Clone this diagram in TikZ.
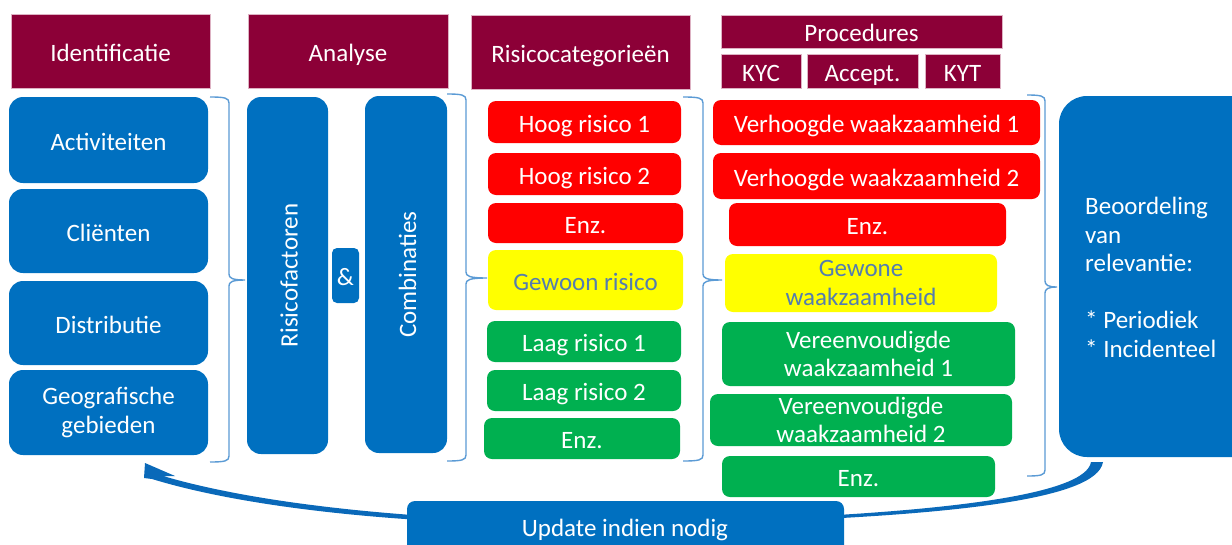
\documentclass[tikz,border=0pt]{standalone}
\usepackage{fontspec}
\setmainfont{Carlito}
\definecolor{maroon}{RGB}{140,0,55}
\definecolor{cblue}{RGB}{0,112,192}
\definecolor{arrblue}{RGB}{10,105,185}
\definecolor{cred}{RGB}{255,0,0}
\definecolor{cyellow}{RGB}{255,255,0}
\definecolor{cgreen}{RGB}{0,176,80}
\definecolor{bracec}{RGB}{91,155,213}
\definecolor{ytext}{RGB}{84,125,175}
\newcommand\oneline[1]{\rule{0pt}{20pt}\smash{#1}}
\newcommand\mybrace[6]{\draw[brace] (#1,#4) .. controls ({#2-4},#4) and (#2,{#4+1}) .. (#2,{#4+6}) -- (#2,{#5-6}) .. controls (#2,{#5-2}) and ({#2+3},#5) .. (#3,#5) .. controls ({#2+3},#5) and (#2,{#5+2}) .. (#2,{#5+6}) -- (#2,{#6-6}) .. controls (#2,{#6-1}) and ({#2-4},#6) .. (#1,#6);}
\newcommand\bx[7]{\node[#1, minimum width={#5pt-#3pt}, minimum height={#6pt-#4pt}] (#2) at ({(#3+#5)/2},{(#4+#6)/2}) {#7};}
\tikzset{
  every node/.style={font=\fontsize{25}{28.5}\selectfont, inner sep=0pt, align=center},
  hdr/.style={fill=maroon, draw=maroon!30, line width=0.6pt, text=white},
  bluebox/.style={fill=cblue, rounded corners=14pt, text=white},
  ampbox/.style={fill=cblue, rounded corners=5pt, text=white},
  redbox/.style={fill=cred, rounded corners=8pt, text=white},
  yelbox/.style={fill=cyellow, rounded corners=8pt, text=ytext},
  greenbox/.style={fill=cgreen, rounded corners=8pt, text=white},
  bigblue/.style={fill=cblue, rounded corners=28pt, text=white},
  updbox/.style={fill=cblue, rounded corners=8pt, text=white},
  brace/.style={draw=bracec, line width=1.4pt},
}
\begin{document}
\begin{tikzpicture}[x=1pt,y=-1pt]
\useasboundingbox (0,0) rectangle (1232,544);
\clip (0,0) rectangle (1232,544);
\fill[white] (0,0) rectangle (1232,544);

% curved return arrow (behind update box)
\fill[arrblue] (1103,462) .. controls (1097,500) and (950,519) .. (640,525)
  .. controls (420,528) and (250,509) .. (152,479)
  -- (144,478) -- (145,463) -- (175,476) -- (163,476)
  .. controls (258,504) and (420,523) .. (640,522.5)
  .. controls (950,516) and (1086,494) .. (1091,462) -- cycle;

% headers
\bx{hdr}{h1}{11}{14}{210}{88}{\oneline{Identificatie}}
\bx{hdr}{h2}{248}{14}{448}{88}{\oneline{Analyse}}
\bx{hdr}{h3}{471}{15}{690}{89}{\oneline{Risicocategorieën}}
\bx{hdr}{h4}{721}{15}{1002}{48}{\oneline{Procedures}}
\bx{hdr}{h5}{721}{54}{801}{88}{\oneline{KYC}}
\bx{hdr}{h6}{807}{54}{918}{88}{\oneline{Accept.}}
\bx{hdr}{h7}{925}{54}{1000}{88}{\oneline{KYT}}

% identification column
\bx{bluebox}{b1}{9}{97}{208}{183}{\oneline{Activiteiten}}
\bx{bluebox}{b2}{9}{189}{208}{273}{\oneline{Cliënten}}
\bx{bluebox}{b3}{9}{281}{208}{365}{\oneline{Distributie}}
\bx{bluebox}{b4}{9}{370}{208}{455}{Geografische\\gebieden}

% analysis
\node[bluebox, rotate=90, minimum width=357pt, minimum height=81pt] (rf) at (287.5,275.5) {\oneline{Risicofactoren}};
\bx{ampbox}{amp}{332}{248}{359}{303}{\oneline{\&}}
\node[bluebox, rotate=90, minimum width=357pt, minimum height=82pt] (comb) at (406,274.5) {\oneline{Combinaties}};

% risk categories
\bx{redbox}{r1}{488}{101}{681}{143}{\oneline{Hoog risico 1}}
\bx{redbox}{r2}{488}{153}{681}{195}{\oneline{Hoog risico 2}}
\bx{redbox}{r3}{488}{203}{683}{243}{\oneline{Enz.}}
\bx{yelbox}{r4}{488}{250}{683}{310}{\oneline{Gewoon risico}}
\bx{greenbox}{r5}{487}{321}{681}{362}{\oneline{Laag risico 1}}
\bx{greenbox}{r6}{487}{370}{681}{411}{\oneline{Laag risico 2}}
\bx{greenbox}{r7}{484}{418}{680}{459}{\oneline{Enz.}}

% procedures
\bx{redbox}{p1}{713}{100}{1040}{145}{\oneline{Verhoogde waakzaamheid 1}}
\bx{redbox}{p2}{713}{153}{1040}{199}{\oneline{Verhoogde waakzaamheid 2}}
\bx{redbox}{p3}{729}{203}{1006}{246}{\oneline{Enz.}}
\bx{yelbox}{p4}{725}{254}{997}{312}{Gewone\\waakzaamheid}
\bx{greenbox}{p5}{722}{322}{1015}{386}{Vereenvoudigde\\waakzaamheid 1}
\bx{greenbox}{p6}{710}{394}{1012}{446}{Vereenvoudigde\\waakzaamheid 2}
\bx{greenbox}{p7}{722}{456}{995}{497}{\oneline{Enz.}}

% assessment
\bx{bigblue}{beo}{1059}{96}{1262}{457}{}
\node[text=white, align=left, anchor=west] (beotext) at (1085,277.5)
  {Beoordeling\\van\\relevantie:\\[28.5pt]* Periodiek\\* Incidenteel};

% update
\bx{updbox}{upd}{407}{501}{844}{553}{}
\node[text=white] (updtext) at (625,526) {\oneline{Update indien nodig}};

% braces
\mybrace{210}{229}{245}{97}{280}{462}
\mybrace{447}{466}{487}{94}{278}{461}
\mybrace{683}{703}{722}{97}{280}{461}
\mybrace{1027}{1045}{1057}{95}{287}{476}
\end{tikzpicture}
\end{document}
